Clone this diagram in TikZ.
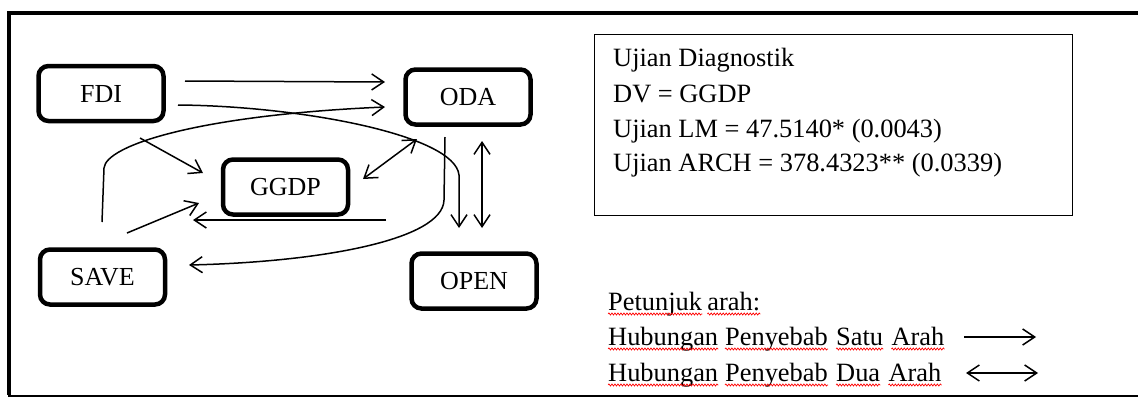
\documentclass[tikz,border=0pt]{standalone}
\usepackage{fontspec}
\setmainfont{Liberation Serif}
\usetikzlibrary{arrows.meta,decorations.pathmorphing}
\begin{document}
\begin{tikzpicture}[x=1pt,y=-1pt,
  box/.style={draw, line width=4.5pt, rounded corners=10pt, minimum width=125pt,
    minimum height=55pt, inner sep=0pt, text depth=0pt, font=\fontsize{26}{30}\selectfont},
  txt/.style={anchor=base west, inner sep=0pt, font=\fontsize{26.4}{30}\selectfont},
  conn/.style={line width=1.5pt, -{Straight Barb[length=12pt,width=16pt]}},
  dconn/.style={line width=1.5pt, {Straight Barb[length=12pt,width=16pt]}-{Straight Barb[length=12pt,width=16pt]}},
  wave/.style={draw=red, line width=0.7pt, decorate, decoration={snake, amplitude=1pt, segment length=3pt}},
  frame/.style={draw=black}]
\useasboundingbox (0,0) rectangle (1138,397);
% outer frame
\draw[frame, line width=4pt] (1145,13) -- (9,13) -- (9,395);
\draw[frame, line width=2pt] (8,395.5) -- (1145,395.5);

% boxes
\node[box] (FDI)  at (101,93.5) {FDI};
\node[box] (ODA)  at (468,97)   {ODA};
\node[box] (GGDP) at (285.5,187) {GGDP};
\node[box] (SAVE) at (102.5,277) {SAVE};
\node[box] (OPEN) at (474,281)  {OPEN};

% connector ends
\coordinate (a1) at (185,81);  \coordinate (b1) at (385,82);
\coordinate (a2) at (178,105); \coordinate (b2) at (459,228);
\coordinate (a3) at (102,222); \coordinate (b3) at (385,107);
\coordinate (a4) at (140,138); \coordinate (b4) at (203,173);
\coordinate (a5) at (127,233); \coordinate (b5) at (199,203);
\coordinate (a6) at (386,220); \coordinate (b6) at (193,220);
\coordinate (a7) at (445,137); \coordinate (b7) at (189,265);
\coordinate (a8) at (363,179); \coordinate (b8) at (417,139);
\coordinate (a9) at (482,141); \coordinate (b9) at (482,228);

\draw[conn] (a1) -- (b1);
\draw[conn] (a2) .. controls (300,106) and (455,135) .. (459,175) -- (b2);
\draw[conn] (a3) -- (104,168) .. controls (106,145) and (200,115) .. (b3);
\draw[conn] (a4) -- (b4);
\draw[conn] (a5) -- (b5);
\draw[conn] (a6) -- (b6);
\draw[conn] (a7) -- (444,200) .. controls (443,240) and (320,262) .. (b7);
\draw[dconn] (a8) -- (b8);
\draw[dconn] (a9) -- (b9);

% diagnostic box
\node[draw, line width=1.3pt, anchor=north west, minimum width=478pt, minimum height=181pt, inner sep=0pt] (diag) at (593.5,33.5) {};
\node[txt] (d1) at (613,66.7)  {Ujian Diagnostik};
\node[txt] (d2) at (613,102.7) {DV = GGDP};
\node[txt] (d3) at (613,137.3) {Ujian LM = 47.5140* (0.0043)};
\node[txt] (d4) at (613,171.7) {Ujian ARCH = 378.4323** (0.0339)};

% legend
\node[txt] (p1) at (608,310) {Petunjuk};
\node[txt] (p2) at ([xshift=5pt]p1.base east) {arah:};
\node[txt] (h1) at (608,345) {Hubungan};
\node[txt] (h2) at ([xshift=6.6pt]h1.base east) {Penyebab};
\node[txt] (h3) at ([xshift=8pt]h2.base east) {Satu};
\node[txt] (h4) at ([xshift=8pt]h3.base east) {Arah};
\node[txt] (k1) at (608,381) {Hubungan};
\node[txt] (k2) at ([xshift=6.6pt]k1.base east) {Penyebab};
\node[txt] (k3) at ([xshift=8pt]k2.base east) {Dua};
\node[txt] (k4) at ([xshift=8pt]k3.base east) {Arah};
\foreach \w in {p1,p2,h1,h2,h3,h4,k1,k2,k3,k4}
  \draw[wave] ([yshift=-4pt]\w.base west) -- ([yshift=-4pt]\w.base east);
\coordinate (la1) at (964,337); \coordinate (lb1) at (1036,337);
\coordinate (la2) at (966,373); \coordinate (lb2) at (1038,373);
\draw[conn] (la1) -- (lb1);
\draw[dconn] (la2) -- (lb2);
\end{tikzpicture}
\end{document}
